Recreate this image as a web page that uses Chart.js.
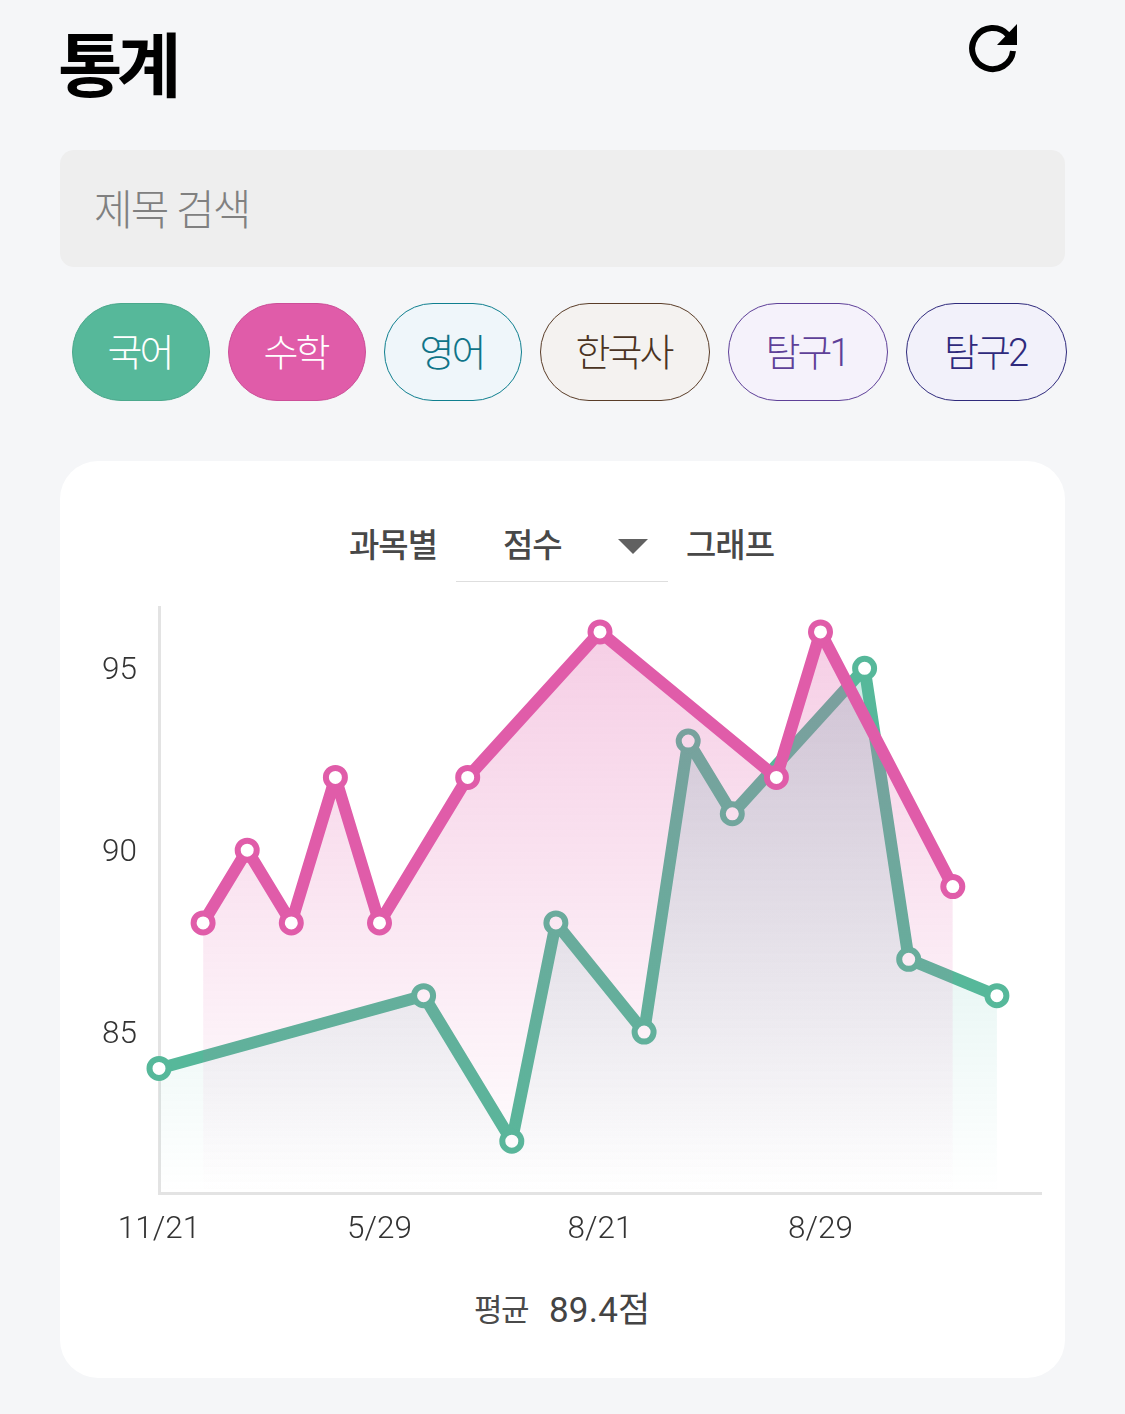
<!DOCTYPE html>
<html lang="ko">
<head>
<meta charset="utf-8">
<title>통계</title>
<script src="https://cdn.jsdelivr.net/npm/chart.js@4"></script>
<style>
  html, body { margin: 0; padding: 0; }
  body { width: 1125px; height: 1414px; position: relative; overflow: hidden; background: #f5f6f8;
    font-family: Roboto, "Noto Sans CJK KR", sans-serif; }
  .abs { position: absolute; white-space: nowrap; }
  #title { left: 58px; top: 18px; font-size: 70px; line-height: 100px; font-weight: 700; color: #000; letter-spacing: -5.5px; }
  #refresh { left: 966px; top: 18px; width: 56px; height: 56px; }
  #search { left: 60px; top: 150px; width: 1005px; height: 117px; background: #eeeeee; border-radius: 14px; }
  #placeholder { left: 94px; top: 181px; font-size: 42px; line-height: 60px; font-weight: 200; color: #808080; letter-spacing: -1.8px; }
  .pill { top: 303px; height: 98px; border-radius: 49px; border: 1px solid; display: flex; align-items: center; justify-content: center;
    font-size: 38px; font-weight: 300; letter-spacing: -3px; box-sizing: border-box; padding: 0 3px 5px 0; }
  #card { left: 60px; top: 461px; width: 1005px; height: 917px; background: #fff; border-radius: 38px; }
  .head { top: 522px; font-size: 33px; line-height: 48px; font-weight: 500; color: #484848; letter-spacing: -1px; }
  #arrow { left: 618px; top: 539px; width: 0; height: 0; border-left: 15px solid transparent; border-right: 15px solid transparent; border-top: 15px solid #616161; }
  #underline { left: 456px; top: 581px; width: 212px; height: 1px; background: #dedede; }
  #chart { position: absolute; left: 60px; top: 567px; }
  #avgLabel { left: 474px; top: 1287px; font-size: 31px; line-height: 48px; color: #4a4a4a; letter-spacing: -1.5px; }
  #avgValue { left: 549px; top: 1287px; font-size: 35px; line-height: 48px; color: #444; font-weight: 400; letter-spacing: 0.2px; }
</style>
</head>
<body>
<div class="abs" id="title">통계</div>
<svg class="abs" id="refresh" viewBox="0 0 56 56">
  <path d="M42 17 A20.5 20.5 0 1 0 47 33" fill="none" stroke="#000" stroke-width="6"/>
  <path d="M51 6 V27 H31 Z" fill="#000"/>
</svg>
<div class="abs" id="search"></div>
<div class="abs" id="placeholder">제목 검색</div>

<div class="abs pill" style="left:72px;width:138px;background:#56b89a;border-color:#4ba88c;color:#fff">국어</div>
<div class="abs pill" style="left:228px;width:138px;background:#e05ca9;border-color:#cc4f98;color:#fff">수학</div>
<div class="abs pill" style="left:384px;width:138px;background:#eff6fa;border-color:#0f7f8f;color:#0f7488">영어</div>
<div class="abs pill" style="left:540px;width:170px;background:#f4f2f0;border-color:#5a3d28;color:#4a3322">한국사</div>
<div class="abs pill" style="left:728px;width:160px;background:#f5f2fb;border-color:#5e4098;color:#5e4098">탐구1</div>
<div class="abs pill" style="left:906px;width:161px;background:#f2f1fa;border-color:#2f2a7c;color:#2f2a7c">탐구2</div>

<div class="abs" id="card"></div>
<div class="abs head" style="left:349px">과목별</div>
<div class="abs head" style="left:503px">점수</div>
<div class="abs" id="arrow"></div>
<div class="abs" id="underline"></div>
<div class="abs head" style="left:686px">그래프</div>

<canvas id="chart" width="1005" height="703"></canvas>

<div class="abs" id="avgLabel">평균</div>
<div class="abs" id="avgValue">89.4점</div>

<script>
const dates = ['11/21', '', '', '', '', '5/29', '', '', '', '', '8/21', '', '', '', '', '8/29', '', '', '', '', ''];
const korean = [84, null, null, null, null, null, 86, null, 82, 88, null, 85, 93, 91, null, null, 95, 87, null, 86, null];
const math = [null, 88, 90, 88, 92, 88, null, 92, null, null, 96, null, null, null, 92, 96, null, null, 89, null, null];
const yTicks = [85, 90, 95];

function fade(rgb, alpha) {
  return (context) => {
    const area = context.chart.chartArea;
    if (!area) return 'transparent';
    let g = context.chart.ctx.createLinearGradient(0, area.top + 20, 0, area.bottom);
    g.addColorStop(0, 'rgba(' + rgb + ',' + alpha + ')');
    g.addColorStop(1, 'rgba(' + rgb + ',0)');
    return g;
  };
}

function lineSet(label, values, color, rgb, alpha) {
  return {
    label: label,
    data: values,
    borderColor: color,
    borderWidth: 12,
    borderJoinStyle: 'round',
    backgroundColor: fade(rgb, alpha),
    fill: 'start',
    spanGaps: true,
    tension: 0,
    clip: false,
    pointRadius: 9.5,
    pointBorderWidth: 6,
    pointBackgroundColor: '#fff',
    pointBorderColor: color
  };
}

// first dataset is painted last, so the pink fill tints the green line below it
new Chart(document.getElementById('chart'), {
  type: 'line',
  data: {
    labels: dates,
    datasets: [
      lineSet('수학', math, '#e05ca9', '224,92,169', 0.3),
      lineSet('국어', korean, '#56b89a', '70,185,165', 0.3)
    ]
  },
  options: {
    responsive: false,
    animation: false,
    layout: { padding: { top: 15, right: 24, bottom: 0, left: 0 } },
    plugins: { legend: { display: false }, tooltip: { enabled: false } },
    scales: {
      x: {
        offset: false,
        grid: { display: false, drawTicks: false },
        border: { color: '#e3e3e3', width: 3 },
        ticks: {
          autoSkip: false, maxRotation: 0, padding: 18, color: '#333',
          font: { family: 'Roboto', size: 31.5, weight: 300 }
        },
        afterFit: (axis) => { axis.height = 77; }
      },
      y: {
        min: 80.575,
        max: 96.66,
        grid: { display: false, drawTicks: false },
        border: { color: '#e3e3e3', width: 3 },
        ticks: {
          padding: 22, labelOffset: 3, color: '#333',
          font: { family: 'Roboto', size: 31.5, weight: 300 }
        },
        afterBuildTicks: (axis) => { axis.ticks = yTicks.map(v => ({ value: v })); },
        afterFit: (axis) => { axis.width = 99; }
      }
    }
  }
});
</script>
</body>
</html>
